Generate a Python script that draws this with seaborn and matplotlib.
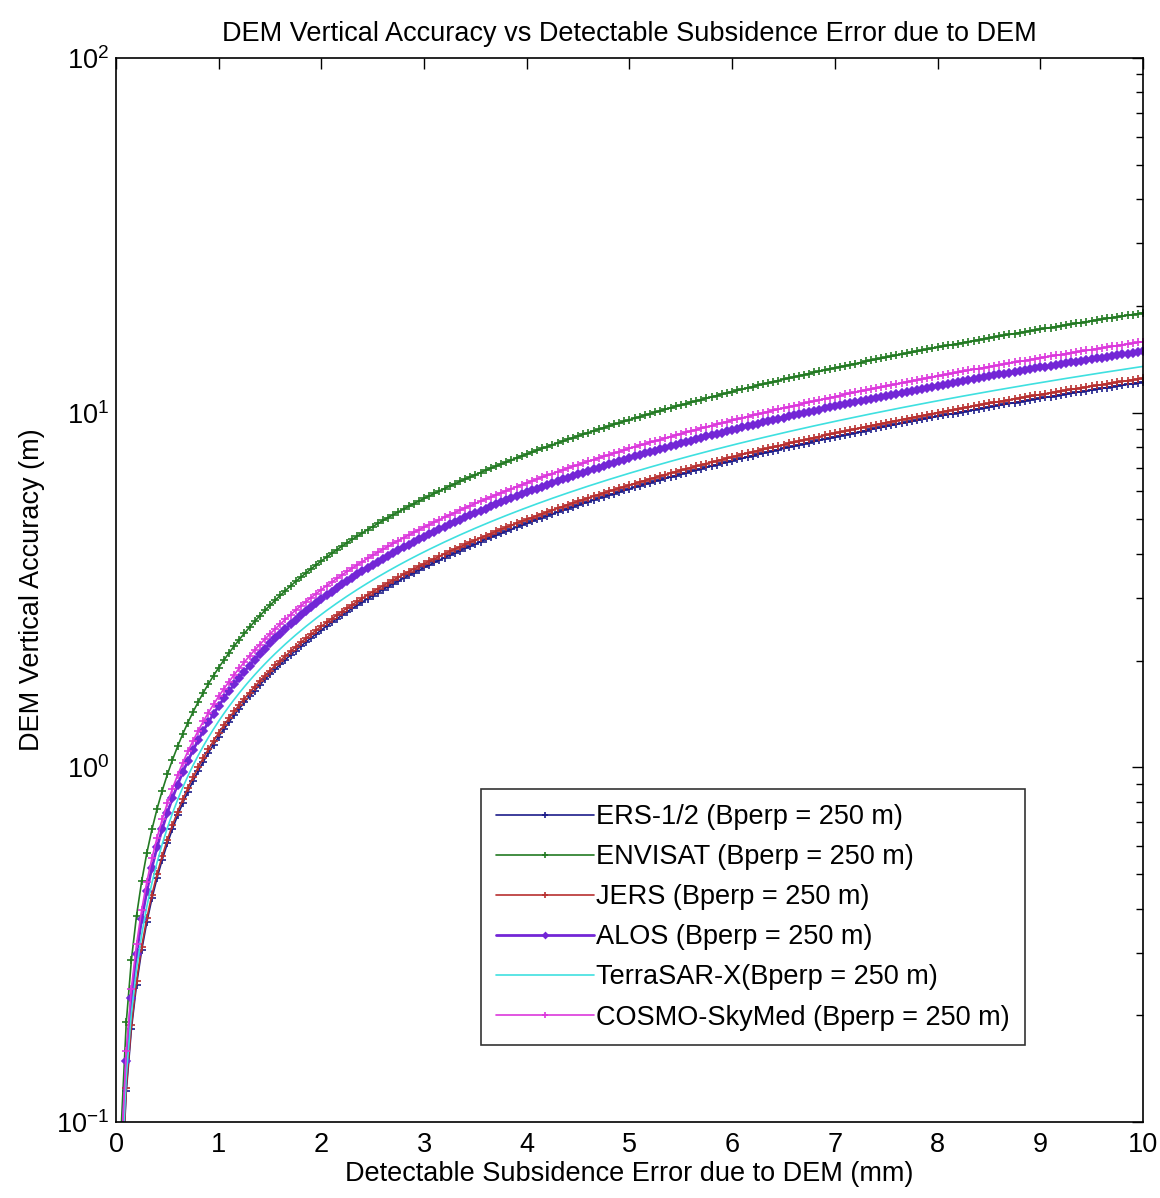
import numpy as np
import pandas as pd
import matplotlib
matplotlib.use("Agg")
import matplotlib.pyplot as plt
import seaborn as sns

# DEM vertical accuracy needed per mm of tolerated subsidence error (m / mm)
sensors = [
    "ERS-1/2 (Bperp = 250 m)",
    "ENVISAT (Bperp = 250 m)",
    "JERS (Bperp = 250 m)",
    "ALOS (Bperp = 250 m)",
    "TerraSAR-X(Bperp = 250 m)",
    "COSMO-SkyMed (Bperp = 250 m)",
]
dem_per_mm = [1.22, 1.91, 1.25, 1.49, 1.35, 1.585]

# subsidence error samples (mm)
error_mm = np.arange(1, 201) * 0.05

colors = ["#1c1c8a", "#237a23", "#b83030", "#7326d6", "#3fe0e0", "#dc38dc"]
markers = ["+", "+", "+", "D", None, "+"]
msizes = [6, 6, 6, 4, 0, 6]
lwidths = [1.2, 1.2, 1.2, 2.0, 1.2, 1.2]

sns.set_theme(style="white")
plt.rcParams["font.family"] = ["Liberation Sans", "DejaVu Sans"]
plt.rcParams["mathtext.fontset"] = "custom"
plt.rcParams["mathtext.rm"] = "Liberation Sans"
for key in ["text.color", "axes.labelcolor", "xtick.color", "ytick.color"]:
    plt.rcParams[key] = "black"

FS = 19.5

fig = plt.figure(figsize=(11.6, 11.98), dpi=100)
ax = fig.add_axes([0.1, 0.0634, 0.8853, 0.8882])

for name, k, c, m, ms, lw in zip(sensors, dem_per_mm, colors, markers, msizes, lwidths):
    df = pd.DataFrame({"err": error_mm, "acc": k * error_mm})
    kw = dict(marker=m, markersize=ms, markeredgewidth=1.2, markeredgecolor=c) if m else {}
    sns.lineplot(data=df, x="err", y="acc", color=c, linewidth=lw, ax=ax,
                 label=name, **kw)

ax.set_yscale("log")
ax.set_xlim(0, 10)
ax.set_ylim(0.1, 100)
ax.set_xticks(range(0, 11))
ax.set_yticks([0.1, 1, 10, 100])
ax.set_yticklabels([r"$10^{-1}$", r"$10^{0}$", r"$10^{1}$", r"$10^{2}$"])

for s in ax.spines.values():
    s.set_color("black")
    s.set_linewidth(1.2)

ax.tick_params(axis="both", which="both", direction="in", top=True, right=True,
               colors="black", labelsize=FS)
ax.tick_params(axis="both", which="major", length=8, width=1)
ax.tick_params(axis="y", which="minor", length=5, width=1)
ax.tick_params(axis="x", which="major", pad=7)
ax.tick_params(axis="y", which="major", pad=5)

ax.set_title("DEM Vertical Accuracy vs Detectable Subsidence Error due to DEM",
             fontsize=FS, pad=12)
ax.set_xlabel("Detectable Subsidence Error due to DEM (mm)", fontsize=FS, labelpad=2)
ax.set_ylabel("DEM Vertical Accuracy (m)", fontsize=FS, labelpad=8)

leg = ax.legend(loc="lower right", bbox_to_anchor=(0.885, 0.072), fontsize=FS,
                frameon=True, fancybox=False, edgecolor="black", handlelength=3.6,
                markerscale=0.7, borderpad=0.55, labelspacing=0.52, handletextpad=0.1,
                borderaxespad=0.0)
leg.get_frame().set_linewidth(1.2)
for t in leg.get_texts():
    t.set_color("black")

fig.savefig("out.png", dpi=100, facecolor="white")
